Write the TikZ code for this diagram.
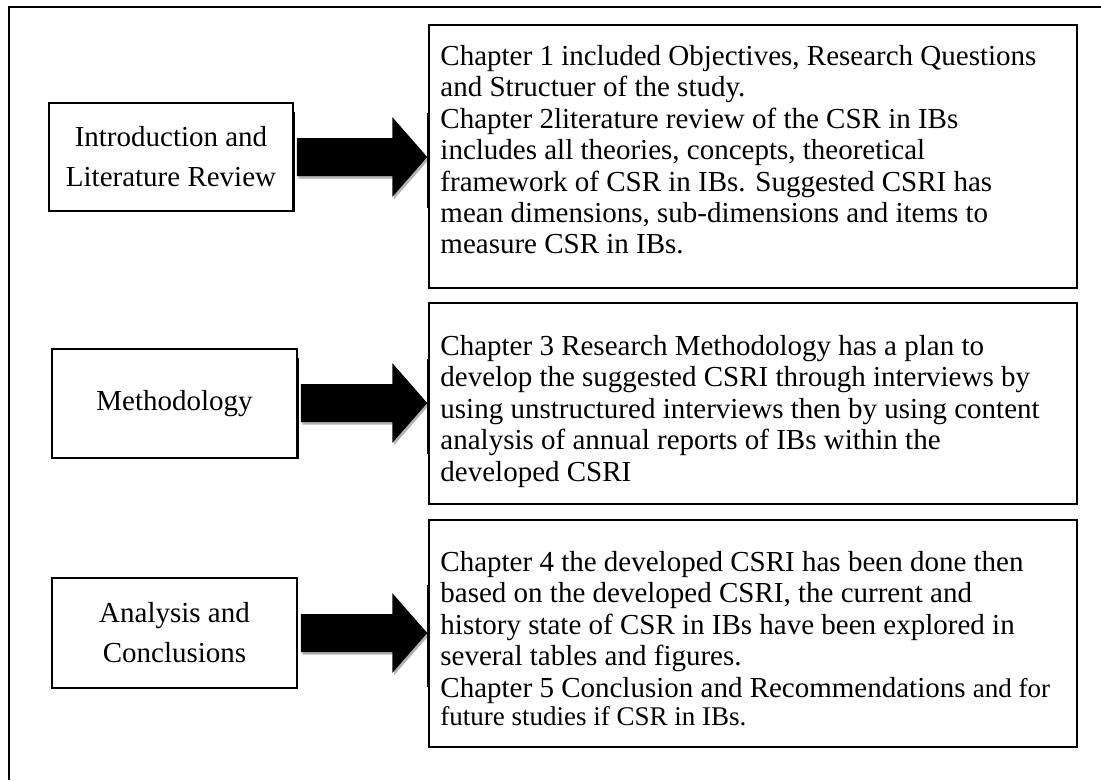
\documentclass[tikz,border=0pt]{standalone}
\usepackage{fontspec}
\setmainfont{Liberation Serif}
\usetikzlibrary{shadows,calc}
\begin{document}
\begin{tikzpicture}[x=1pt,y=-1pt,
  lbox/.style={draw=black,line width=1.5pt,inner sep=0pt,minimum width=245pt,font=\fontsize{29}{40}\selectfont,align=center},
  rbox/.style={draw=black,line width=1.5pt,inner sep=0pt,minimum width=648pt},
  btext/.style={anchor=north west,inner sep=0pt,align=left,font=\fontsize{29}{31.4}\selectfont},
  bigarrow/.style={fill=black,drop shadow={shadow xshift=1.5pt,shadow yshift=-2.5pt,opacity=0.3,fill=black}},
  bar/.style={line width=3.5pt},
  frame/.style={line width=1.5pt}]
\useasboundingbox (0,0) rectangle (1101,780);
\draw[frame] (9,780) -- (9,7) -- (1101,7);
% left boxes
\node[lbox,minimum height=108pt,minimum width=244pt] (lb1) at (171,157) {Introduction and\\Literature Review};
\node[lbox,minimum height=109pt] (lb2) at (174.5,403.5) {Methodology};
\node[lbox,minimum height=110pt] (lb3) at (174.5,633) {Analysis and\\Conclusions};
% right boxes
\node[rbox,minimum height=263pt] (rb1) at (753,156.5) {};
\node[rbox,minimum height=201pt] (rb2) at (753,403.5) {};
\node[rbox,minimum height=227pt] (rb3) at (753,633.5) {};
% arrows between boxes
\foreach \l/\r/\y in {lb1/rb1/157,lb2/rb2/403,lb3/rb3/633}{
  \fill[bigarrow] ($(\l.east |- 0,\y)+(3,-19)$) -- ($(\r.west |- 0,\y)+(-36,-19)$) -- ($(\r.west |- 0,\y)+(-36,-40)$)
    -- ($(\r.west |- 0,\y)+(-1,0)$) -- ($(\r.west |- 0,\y)+(-36,40)$) -- ($(\r.west |- 0,\y)+(-36,19)$)
    -- ($(\l.east |- 0,\y)+(3,19)$) -- cycle;
}
\draw[bar] ([yshift=44pt]rb1.west |- 0,157) -- ([yshift=-51pt]rb1.west |- 0,157);
\draw[bar] ([yshift=44pt]rb2.west |- 0,403) -- ([yshift=-51pt]rb2.west |- 0,403);
\draw[bar] ([yshift=48pt]rb3.west |- 0,633) -- ([yshift=-54pt]rb3.west |- 0,633);
\draw[line width=2.5pt] ([yshift=-10pt]lb1.north east) -- (lb1.south east);
\draw[line width=2.5pt] ([yshift=-10pt]lb2.north east) -- (lb2.south east);
% texts
\node[btext] (t1) at ([xshift=12pt,yshift=-21pt]rb1.north west) {Chapter 1 included Objectives, Research Questions\\
and Structuer of the study.\\
Chapter 2literature review of the CSR in IBs\\
includes all theories, concepts, theoretical\\
framework of CSR in IBs. Suggested CSRI has\\
mean dimensions, sub-dimensions and items to\\
measure CSR in IBs.};
\node[btext] (t2) at ([xshift=12pt,yshift=-33pt]rb2.north west) {Chapter 3 Research Methodology has a plan to\\
develop the suggested CSRI through interviews by\\
using unstructured interviews then by using content\\
analysis of annual reports of IBs within the\\
developed CSRI};
\node[btext] (t3) at ([xshift=12pt,yshift=-32pt]rb3.north west) {Chapter 4 the developed CSRI has been done then\\
based on the developed CSRI, the current and\\
history state of CSR in IBs have been explored in\\
several tables and figures.\\
Chapter 5 Conclusion and Recommendations {\fontsize{27}{28}\selectfont and for}\\[-3pt]
{\fontsize{27}{28}\selectfont future studies if CSR in IBs.}};
\end{tikzpicture}
\end{document}
